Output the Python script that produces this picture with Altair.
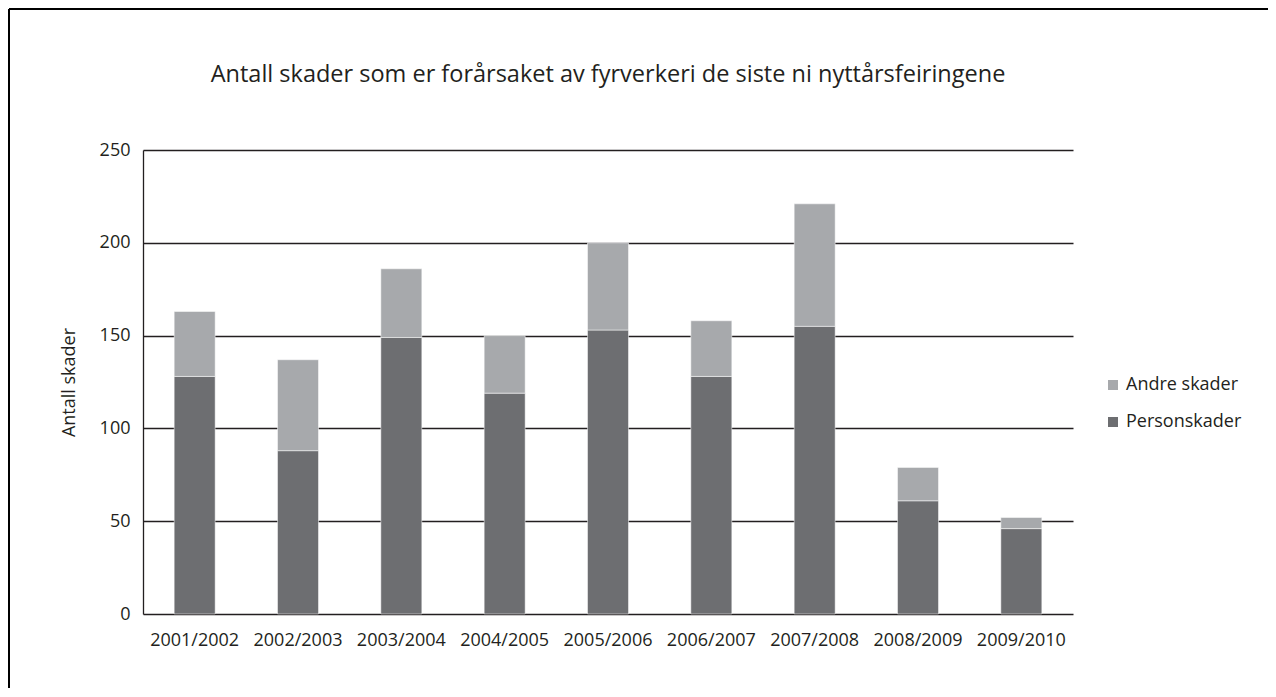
import altair as alt
import pandas as pd

seasons = ["2001/2002", "2002/2003", "2003/2004", "2004/2005", "2005/2006",
           "2006/2007", "2007/2008", "2008/2009", "2009/2010"]
personskader = [128, 88, 149, 119, 153, 128, 155, 61, 46]
totals = [163, 137, 186, 150, 200, 158, 221, 79, 52]
andre_skader = [t - p for t, p in zip(totals, personskader)]

series_names = ["Andre skader", "Personskader"]
series_colors = ["#a7a9ac", "#6d6e71"]
chart_title = "Antall skader som er forårsaket av fyrverkeri de siste ni nyttårsfeiringene"

rows = []
for s, p, a in zip(seasons, personskader, andre_skader):
    rows.append({"season": s, "serie": "Personskader", "value": p, "ord": 0})
    rows.append({"season": s, "serie": "Andre skader", "value": a, "ord": 1})
df = pd.DataFrame(rows)

FONT = "Open Sans"
INK = "#231f20"
FS = 18
W, H = 930, 464
PL, PT, PR, PB = 135, 142, 195, 74

bars = alt.Chart(df).mark_bar(size=41, stroke="white", strokeWidth=0.5).encode(
    x=alt.X("season:N", sort=seasons, title=None,
            axis=alt.Axis(labelAngle=0, ticks=False, domain=False, labelPadding=17,
                          labelFontSize=FS, labelFont=FONT, labelColor=INK)),
    y=alt.Y("value:Q", stack="zero", title="Antall skader",
            scale=alt.Scale(domain=[0, 250], nice=False),
            axis=alt.Axis(values=[0, 50, 100, 150, 200, 250], ticks=False,
                          labelPadding=13, labelFontSize=FS, labelFont=FONT,
                          labelColor=INK, titleFont=FONT, titleFontSize=FS,
                          titleFontWeight="normal", titleColor=INK, titlePadding=21,
                          grid=True, gridColor=INK, gridWidth=1.3,
                          domain=True, domainColor=INK, domainWidth=1.3)),
    color=alt.Color("serie:N", scale=alt.Scale(domain=series_names, range=series_colors),
                    legend=alt.Legend(title=None, orient="none", legendX=961, legendY=226,
                                      symbolType="square", symbolSize=100,
                                      symbolStrokeWidth=0,
                                      labelFontSize=FS, labelFont=FONT, labelColor=INK,
                                      labelOffset=4, rowPadding=19)),
    order=alt.Order("ord:Q"),
)

one = pd.DataFrame({"t": [chart_title]})
title_text = alt.Chart(one).mark_text(
    font=FONT, fontSize=23.5, color=INK, align="center", baseline="middle"
).encode(x=alt.value(W / 2), y=alt.value(-75), text="t:N")

top_line = alt.Chart(one).mark_rule(color="black", strokeWidth=2).encode(
    x=alt.value(-PL + 1), x2=alt.value(W + PR), y=alt.value(-PT + 1)
)
left_line = alt.Chart(one).mark_rule(color="black", strokeWidth=2).encode(
    x=alt.value(-PL + 1), y=alt.value(-PT + 1), y2=alt.value(H + PB)
)

chart = alt.layer(bars, title_text, top_line, left_line).properties(
    width=W, height=H,
    autosize=alt.AutoSizeParams(type="none"),
    padding={"left": PL, "top": PT, "right": PR, "bottom": PB},
).configure_view(stroke=None)

chart.save("out.html", embed_options={"renderer": "svg", "actions": False})
